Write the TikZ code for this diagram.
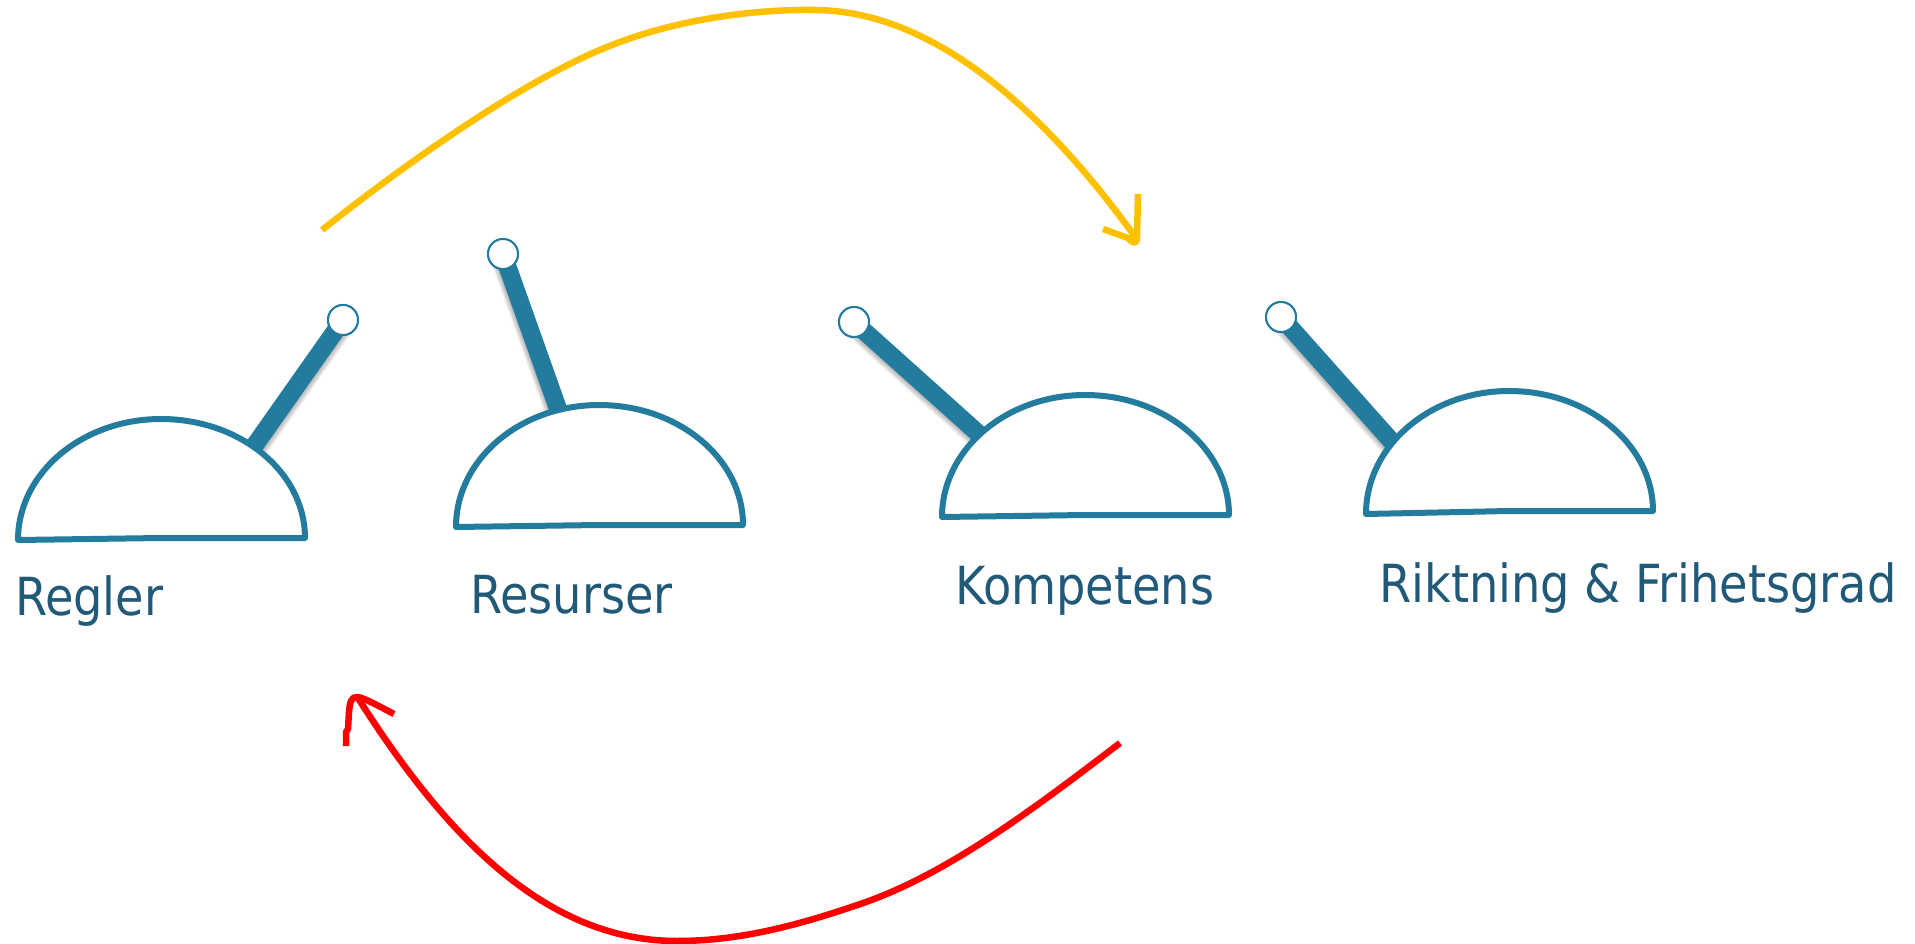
\documentclass[tikz,border=0pt]{standalone}
\usepackage{fontspec}
\setmainfont{DejaVu Sans}
\newfontfamily\labelfont{DejaVu Sans Condensed}
\definecolor{teal1}{HTML}{237C9E}
\definecolor{txt1}{HTML}{215A78}
\definecolor{yel1}{HTML}{FFC000}
\definecolor{red1}{HTML}{FF0000}
\tikzset{
  domeshape/.style={draw=teal1,fill=white,line width=6pt,line join=round},
  barline/.style={draw=teal1,line width=18pt},
  barshade/.style={draw=black,opacity=0.06},
  knob/.style={circle,draw=teal1,fill=white,line width=2pt,minimum size=30pt,inner sep=0pt},
  lab/.style={anchor=base west,text=txt1,inner sep=0pt,font=\labelfont\fontsize{52.5}{60}\selectfont},
  yelcurve/.style={draw=yel1,line width=6.5pt,line join=round},
  redcurve/.style={draw=red1,line width=6.5pt,line join=round}
}
% name, lx, ly, cx, top, rx, ry
\newcommand{\domedraw}[7]{%
  \draw[domeshape] (#2,#3) .. controls (#2,{#3-0.5523*(#3-#5)}) and ({#4-0.5523*(#4-#2)},#5) .. (#4,#5)
    .. controls ({#4+0.5523*(#6-#4)},#5) and (#6,{#7-0.5523*(#7-#5)}) .. (#6,#7)
    -- (#4,#7) -- cycle;}
% knob, end, shade dx
\newcommand{\barshadow}[3]{%
  \foreach \k in {1,2,3,4,5}{
    \draw[barshade,line width=18pt] ([shift={(#3*\k*0.8,\k*0.8)}]#1.center) -- ([shift={(#3*\k*0.8,\k*0.8)}]#2);
  }
  \draw[barline] (#1.center) -- (#2);}
\begin{document}
\begin{tikzpicture}[x=1pt,y=-1pt]
\useasboundingbox (0,0) rectangle (1915,944);
% Regler
\node[knob] (k1) at (343,320) {};
\coordinate (e1) at (250,452);
\barshadow{k1}{e1}{1}
\domedraw{d1}{18}{540}{161}{419}{305}{538}
\node[knob] at (k1) {};
\node[lab,xscale=.98,transform shape] (t1) at (15,615) {Regler};
% Resurser
\node[knob] (k2) at (503,254) {};
\coordinate (e2) at (562,420);
\barshadow{k2}{e2}{-1}
\domedraw{d2}{456}{527}{599}{405}{743}{525}
\node[knob] at (k2) {};
\node[lab,xscale=.98,transform shape] (t2) at (470,613) {Resurser};
% Kompetens
\node[knob] (k3) at (854,322) {};
\coordinate (e3) at (990,444);
\barshadow{k3}{e3}{-1}
\domedraw{d3}{942}{517}{1085}{395}{1229}{515}
\node[knob] at (k3) {};
\node[lab,xscale=.98,transform shape] (t3) at (955,604) {Kompetens};
% Riktning
\node[knob] (k4) at (1281,317) {};
\coordinate (e4) at (1402,453);
\barshadow{k4}{e4}{-1}
\domedraw{d4}{1366}{514}{1509}{391}{1653}{511}
\node[knob] at (k4) {};
\node[lab,xscale=.98,transform shape] (t4) at (1379,602) {Riktning \& Frihetsgrad};
% Yellow arrow
\coordinate (ys) at (322,230);
\coordinate (y1) at (607,47);
\coordinate (y2) at (815,10);
\coordinate (ye) at (1136,238);
\draw[yelcurve] (ys) .. controls (410,160) and (525,80) .. (y1)
  .. controls (668,22) and (745,9) .. (y2)
  .. controls (935,11) and (1045,112) .. (ye);
\coordinate (ya) at (1103,229);
\coordinate (yb) at (1138,194);
\draw[yelcurve] (ya) -- (1128,238) .. controls (1134,245) and (1137,244) .. (1137,236) -- (yb);
% Red arrow
\coordinate (rs) at (1120,743);
\coordinate (r1) at (866,902);
\coordinate (r2) at (677,941);
\coordinate (re) at (358,698);
\draw[redcurve] (rs) .. controls (1035,808) and (950,872) .. (r1)
  .. controls (800,925) and (740,941) .. (r2)
  .. controls (545,941) and (445,835) .. (re);
\coordinate (ra) at (394,714);
\coordinate (rb) at (346,746);
\draw[redcurve] (ra) .. controls (375,704) and (362,697) .. (357,697)
  .. controls (351,697) and (350,702) .. (349,712) -- (348,729) -- (346,732) -- (rb);
\end{tikzpicture}
\end{document}
